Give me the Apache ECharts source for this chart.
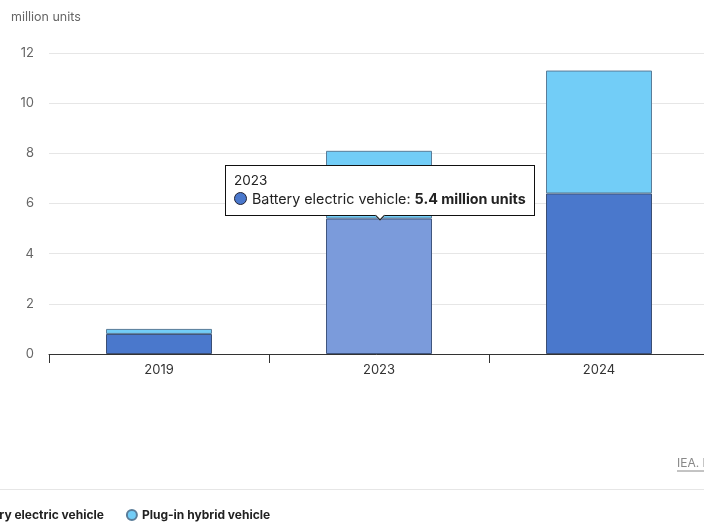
<!DOCTYPE html>
<html>
<head>
<meta charset="utf-8">
<script src="https://cdn.jsdelivr.net/npm/echarts@6/dist/echarts.min.js"></script>
<style>
  html, body { margin: 0; padding: 0; background: #fff; }
  #chart { width: 704px; height: 522px; }
</style>
</head>
<body>
<div id="chart"></div>
<script>
// Electric car sales by powertrain, million units
const years = ['2019', '2023', '2024'];
const batteryElectric = [0.8, 5.4, 6.4];
const plugInHybrid = [0.2, 2.7, 4.9];
const yTicks = [0, 2, 4, 6, 8, 10, 12];

const FONT = 'Inter, "Noto Sans", sans-serif';
const BEV_COLOR = '#4a78cc';
const PHEV_COLOR = '#72cdf7';

const chart = echarts.init(document.getElementById('chart'));

chart.setOption({
  animation: false,
  textStyle: { fontFamily: FONT },
  // the plot runs a little past the right edge of the canvas
  grid: { left: 49, width: 660, top: 53, bottom: 168, containLabel: false, outerBoundsMode: 'none' },
  graphic: [
    {
      type: 'text', left: 11, top: 11,
      style: { text: 'million units', fill: '#666', font: '12.5px ' + FONT }
    },
    {
      type: 'text', left: 677, top: 457,
      style: { text: 'IEA. Licence: CC BY 4.0', fill: '#888', font: '12px ' + FONT }
    },
    {
      type: 'line', shape: { x1: 677, y1: 471, x2: 704, y2: 471 },
      style: { stroke: '#888', lineWidth: 1 }
    },
    {
      type: 'line', shape: { x1: 0, y1: 489.5, x2: 704, y2: 489.5 },
      style: { stroke: '#e6e6e6', lineWidth: 1 }
    }
  ],
  legend: {
    left: -52, top: 504,
    icon: 'circle', itemWidth: 10, itemHeight: 10, itemGap: 22,
    textStyle: { fontFamily: FONT, fontSize: 12, fontWeight: 'bold', color: '#222' },
    data: ['Battery electric vehicle', 'Plug-in hybrid vehicle']
  },
  tooltip: {
    trigger: 'item',
    triggerOn: 'none',
    alwaysShowContent: true,
    position: 'top',
    transitionDuration: 0,
    backgroundColor: '#fff',
    borderColor: '#111',
    borderWidth: 1,
    padding: [6, 8, 7, 8],
    extraCssText: 'box-shadow:none;border-radius:0;margin-top:7px;margin-left:1px;',
    textStyle: { fontFamily: FONT, color: '#222' },
    formatter: function (p) {
      const marker = '<span style="display:inline-block;width:11px;height:11px;border-radius:50%;' +
        'background:' + BEV_COLOR + ';border:1px solid #223;margin-right:5px;vertical-align:-1px"></span>';
      return '<div style="font-size:13.5px;line-height:17px">' + p.name + '</div>' +
        '<div style="font-size:14.3px;line-height:19px">' + marker + p.seriesName + ': <b>' +
        p.value + ' million units</b></div>';
    }
  },
  xAxis: {
    type: 'category',
    data: years,
    axisLine: { lineStyle: { color: '#333', width: 1 } },
    axisTick: { show: true, length: 9, lineStyle: { color: '#333' } },
    axisLabel: { color: '#333', fontSize: 13, margin: 10, fontFamily: FONT }
  },
  yAxis: {
    type: 'value',
    min: yTicks[0], max: yTicks[yTicks.length - 1], interval: 2,
    axisLine: { show: false },
    axisTick: { show: false },
    axisLabel: { color: '#666', fontSize: 13, margin: 15, fontFamily: FONT },
    splitLine: { lineStyle: { color: '#e6e6e6' } }
  },
  series: [
    {
      name: 'Battery electric vehicle',
      type: 'bar', stack: 'sales', barWidth: 106,
      data: batteryElectric,
      itemStyle: { color: BEV_COLOR, borderColor: '#3b4f74', borderWidth: 1 },
      emphasis: { itemStyle: { color: '#7b9bdb' } }
    },
    {
      name: 'Plug-in hybrid vehicle',
      type: 'bar', stack: 'sales', barWidth: 106,
      data: plugInHybrid,
      itemStyle: { color: PHEV_COLOR, borderColor: '#5a7d99', borderWidth: 1 },
      emphasis: { itemStyle: { color: PHEV_COLOR } }
    }
  ]
});

chart.dispatchAction({ type: 'highlight', seriesIndex: 0, dataIndex: 1 });
chart.dispatchAction({ type: 'showTip', seriesIndex: 0, dataIndex: 1 });
</script>
</body>
</html>
